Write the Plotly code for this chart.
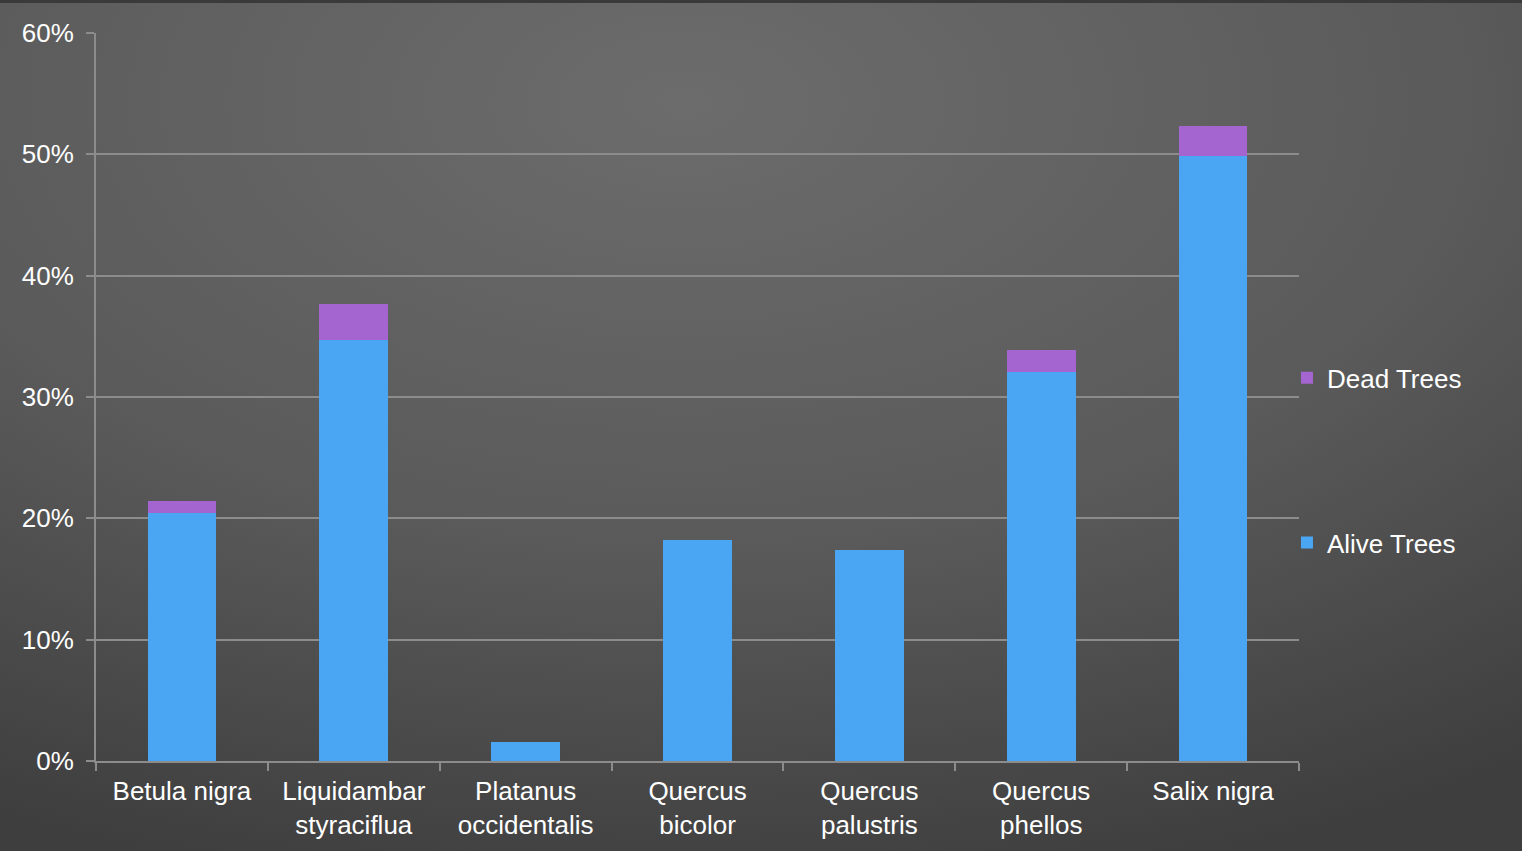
import base64
import plotly.graph_objects as go

categories = ["Betula nigra", "Liquidambar<br>styraciflua", "Platanus<br>occidentalis",
              "Quercus<br>bicolor", "Quercus<br>palustris", "Quercus<br>phellos", "Salix nigra"]
alive_pct = [20.4, 34.7, 1.6, 18.2, 17.4, 32.1, 49.9]
dead_pct = [1.0, 3.0, 0.0, 0.0, 0.0, 1.8, 2.4]
y_ticks = [0, 10, 20, 30, 40, 50, 60]
y_tick_labels = ["0%", "10%", "20%", "30%", "40%", "50%", "60%"]

W, H = 1522, 851
L, R, T, B = 96, 223, 33, 90
pw, ph = W - L - R, H - T - B

svg = f'''<svg xmlns="http://www.w3.org/2000/svg" width="{W}" height="{H}" viewBox="0 0 {W} {H}" preserveAspectRatio="none">
<defs><radialGradient id="g" cx="0.45" cy="0.12" r="0.95" gradientUnits="objectBoundingBox">
<stop offset="0" stop-color="#6c6c6c"/><stop offset="0.55" stop-color="#5a5a5a"/><stop offset="1" stop-color="#3e3e3e"/>
</radialGradient></defs>
<rect width="{W}" height="{H}" fill="url(#g)"/>
<rect width="{W}" height="3" fill="#3a3a3a"/>
</svg>'''
bg_uri = "data:image/svg+xml;base64," + base64.b64encode(svg.encode()).decode()

fig = go.Figure()
fig.add_trace(go.Bar(x=categories, y=alive_pct, name="Alive Trees", legendgroup="a", legendrank=2,
                     marker=dict(color="#4aa6f2", line=dict(width=0))))
fig.add_trace(go.Bar(x=categories, y=dead_pct, name="Dead Trees", legendgroup="d", legendrank=1,
                     marker=dict(color="#a465d0", line=dict(width=0))))

font = "Liberation Sans, Arial, sans-serif"
fig.update_layout(
    width=W, height=H, barmode="stack", bargap=0.6,
    margin=dict(l=L, r=R, t=T, b=B, autoexpand=False),
    paper_bgcolor="#4a4a4a", plot_bgcolor="rgba(0,0,0,0)",
    font=dict(family=font, size=26, color="#ffffff"),
    showlegend=True,
    legend=dict(x=0.99, y=0.413, xanchor="left", yanchor="middle",
                traceorder="grouped", tracegroupgap=128,
                bgcolor="rgba(0,0,0,0)", font=dict(size=26, color="#ffffff"),
                itemwidth=30),
    images=[dict(source=bg_uri, xref="paper", yref="paper",
                 x=-L / pw, y=1 + T / ph, sizex=W / pw, sizey=H / ph,
                 xanchor="left", yanchor="top", sizing="stretch", layer="below")],
    xaxis=dict(showline=True, linecolor="#8c8c8c", linewidth=2,
               ticks="outside", tickson="boundaries", ticklen=8, tickwidth=2, tickcolor="#8c8c8c",
               showgrid=False, ticklabelstandoff=6, tickfont=dict(size=26, color="#ffffff")),
    yaxis=dict(range=[0, 60], tickmode="array", tickvals=y_ticks, ticktext=y_tick_labels,
               showline=True, linecolor="#8c8c8c", linewidth=2,
               ticks="outside", ticklen=8, tickwidth=2, tickcolor="#8c8c8c",
               showgrid=True, gridcolor="#8c8c8c", gridwidth=2, zeroline=False,
               ticklabelstandoff=7, tickfont=dict(size=26, color="#ffffff")),
    hovermode=False,
)
fig.write_html("out.html")
